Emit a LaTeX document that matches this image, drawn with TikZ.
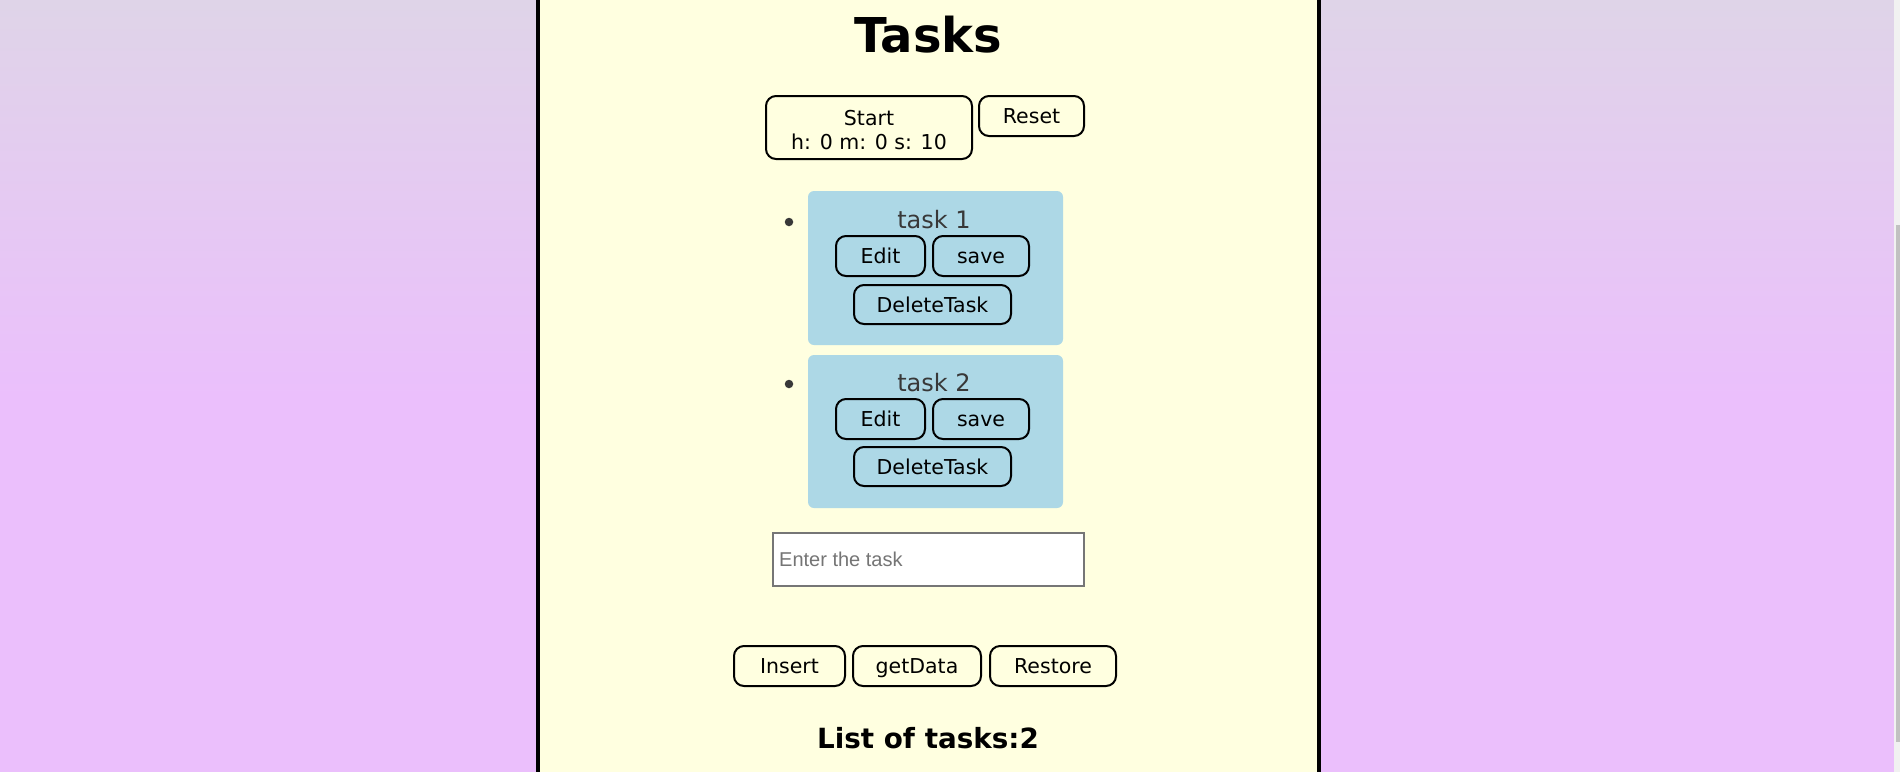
\documentclass[tikz,border=0pt]{standalone}
\usepackage{fontspec}
\setmainfont{DejaVu Sans}
\newfontfamily\arialfont{Liberation Sans}
\definecolor{bgtop}{HTML}{DFD4E8}
\definecolor{bgbot}{HTML}{EBBFFC}
\definecolor{panel}{HTML}{FFFFE0}
\definecolor{card}{HTML}{ADD8E6}
\definecolor{tasktxt}{HTML}{383838}
\definecolor{phgray}{HTML}{757575}
\definecolor{inborder}{HTML}{767676}
\definecolor{track}{HTML}{F1F1F1}
\definecolor{thumb}{HTML}{C1C1C1}
\tikzset{
  btnbase/.style={draw=black, line width=2pt, rounded corners=10pt, inner sep=0pt,
    font=\fontsize{20.5}{24}\selectfont, align=center},
  btn/.style={btnbase, text height=15pt, text depth=0pt},
  cardbox/.style={fill=card, rounded corners=6pt, inner sep=0pt},
  tasklabel/.style={font=\fontsize{24}{28}\selectfont, text=tasktxt, inner sep=0pt,
    text height=17.5pt, text depth=0pt},
  bulletdot/.style={circle, fill=tasktxt, inner sep=0pt, minimum size=8.5pt},
}
\begin{document}
\begin{tikzpicture}[x=1pt,y=-1pt]
\useasboundingbox (0,0) rectangle (1900,772);
% background
\shade[top color=bgtop, bottom color=bgbot] (0,0) rectangle (1900,400);
\fill[bgbot] (0,399) rectangle (1900,772);
% scrollbar
\fill[track] (1894,0) rectangle (1900,772);
\fill[thumb] (1896,225) rectangle (1900,742);
% panel
\fill[panel] (538,0) rectangle (1319,772);
\draw[line width=4pt] (538,0) -- (538,772);
\draw[line width=4pt] (1319,0) -- (1319,772);
% title
\node[font=\fontsize{48}{56}\selectfont\bfseries, inner sep=0pt, text height=35pt, text depth=0pt] (title) at (928,35) {Tasks};
% timer buttons
\node[btnbase, minimum width=206pt, minimum height=63pt] (start) at (869,127.5) {};
\node[font=\fontsize{20.5}{24}\selectfont, align=center, inner sep=0pt] (starttxt) at ([yshift=-2.5pt]start.center) {Start\\h: 0 m: 0 s: 10};
\node[btn, minimum width=105pt, minimum height=40pt] (reset) at (1031.5,116) {Reset};
% task 1
\node[cardbox, minimum width=255pt, minimum height=154pt] (card1) at (935.5,268) {};
\node[bulletdot] (b1) at (789,222) {};
\node[tasklabel] (t1) at (934,220) {task 1};
\node[btn, minimum width=89pt, minimum height=40pt] (edit1) at (880.5,256) {Edit};
\node[btn, minimum width=96pt, minimum height=40pt] (save1) at (981,256) {save};
\node[btn, minimum width=157pt, minimum height=39pt] (del1) at (932.5,304.5) {DeleteTask};
% task 2
\node[cardbox, minimum width=255pt, minimum height=153pt] (card2) at (935.5,431.5) {};
\node[bulletdot] (b2) at (789,384) {};
\node[tasklabel] (t2) at (934,383) {task 2};
\node[btn, minimum width=89pt, minimum height=40pt] (edit2) at (880.5,419) {Edit};
\node[btn, minimum width=96pt, minimum height=40pt] (save2) at (981,419) {save};
\node[btn, minimum width=157pt, minimum height=39pt] (del2) at (932.5,466.5) {DeleteTask};
% input
\node[draw=inborder, fill=white, line width=1.2pt, minimum width=311pt, minimum height=53pt, inner sep=0pt] (input) at (928.5,559.5) {};
\node[anchor=west, inner sep=0pt, font=\arialfont\fontsize{20}{24}\selectfont, text=phgray, text height=14.4pt, text depth=0pt] (ph) at (779,559) {Enter the task};
% bottom buttons
\node[btn, minimum width=111pt, minimum height=40pt] (insert) at (789.5,666) {Insert};
\node[btn, minimum width=128pt, minimum height=40pt] (getdata) at (917,666) {getData};
\node[btn, minimum width=126pt, minimum height=40pt] (restore) at (1053,666) {Restore};
% list count
\node[font=\fontsize{27.8}{32}\selectfont\bfseries, inner sep=0pt, text height=20.3pt, text depth=0pt] (count) at (928,738) {List of tasks:2};
\end{tikzpicture}
\end{document}
